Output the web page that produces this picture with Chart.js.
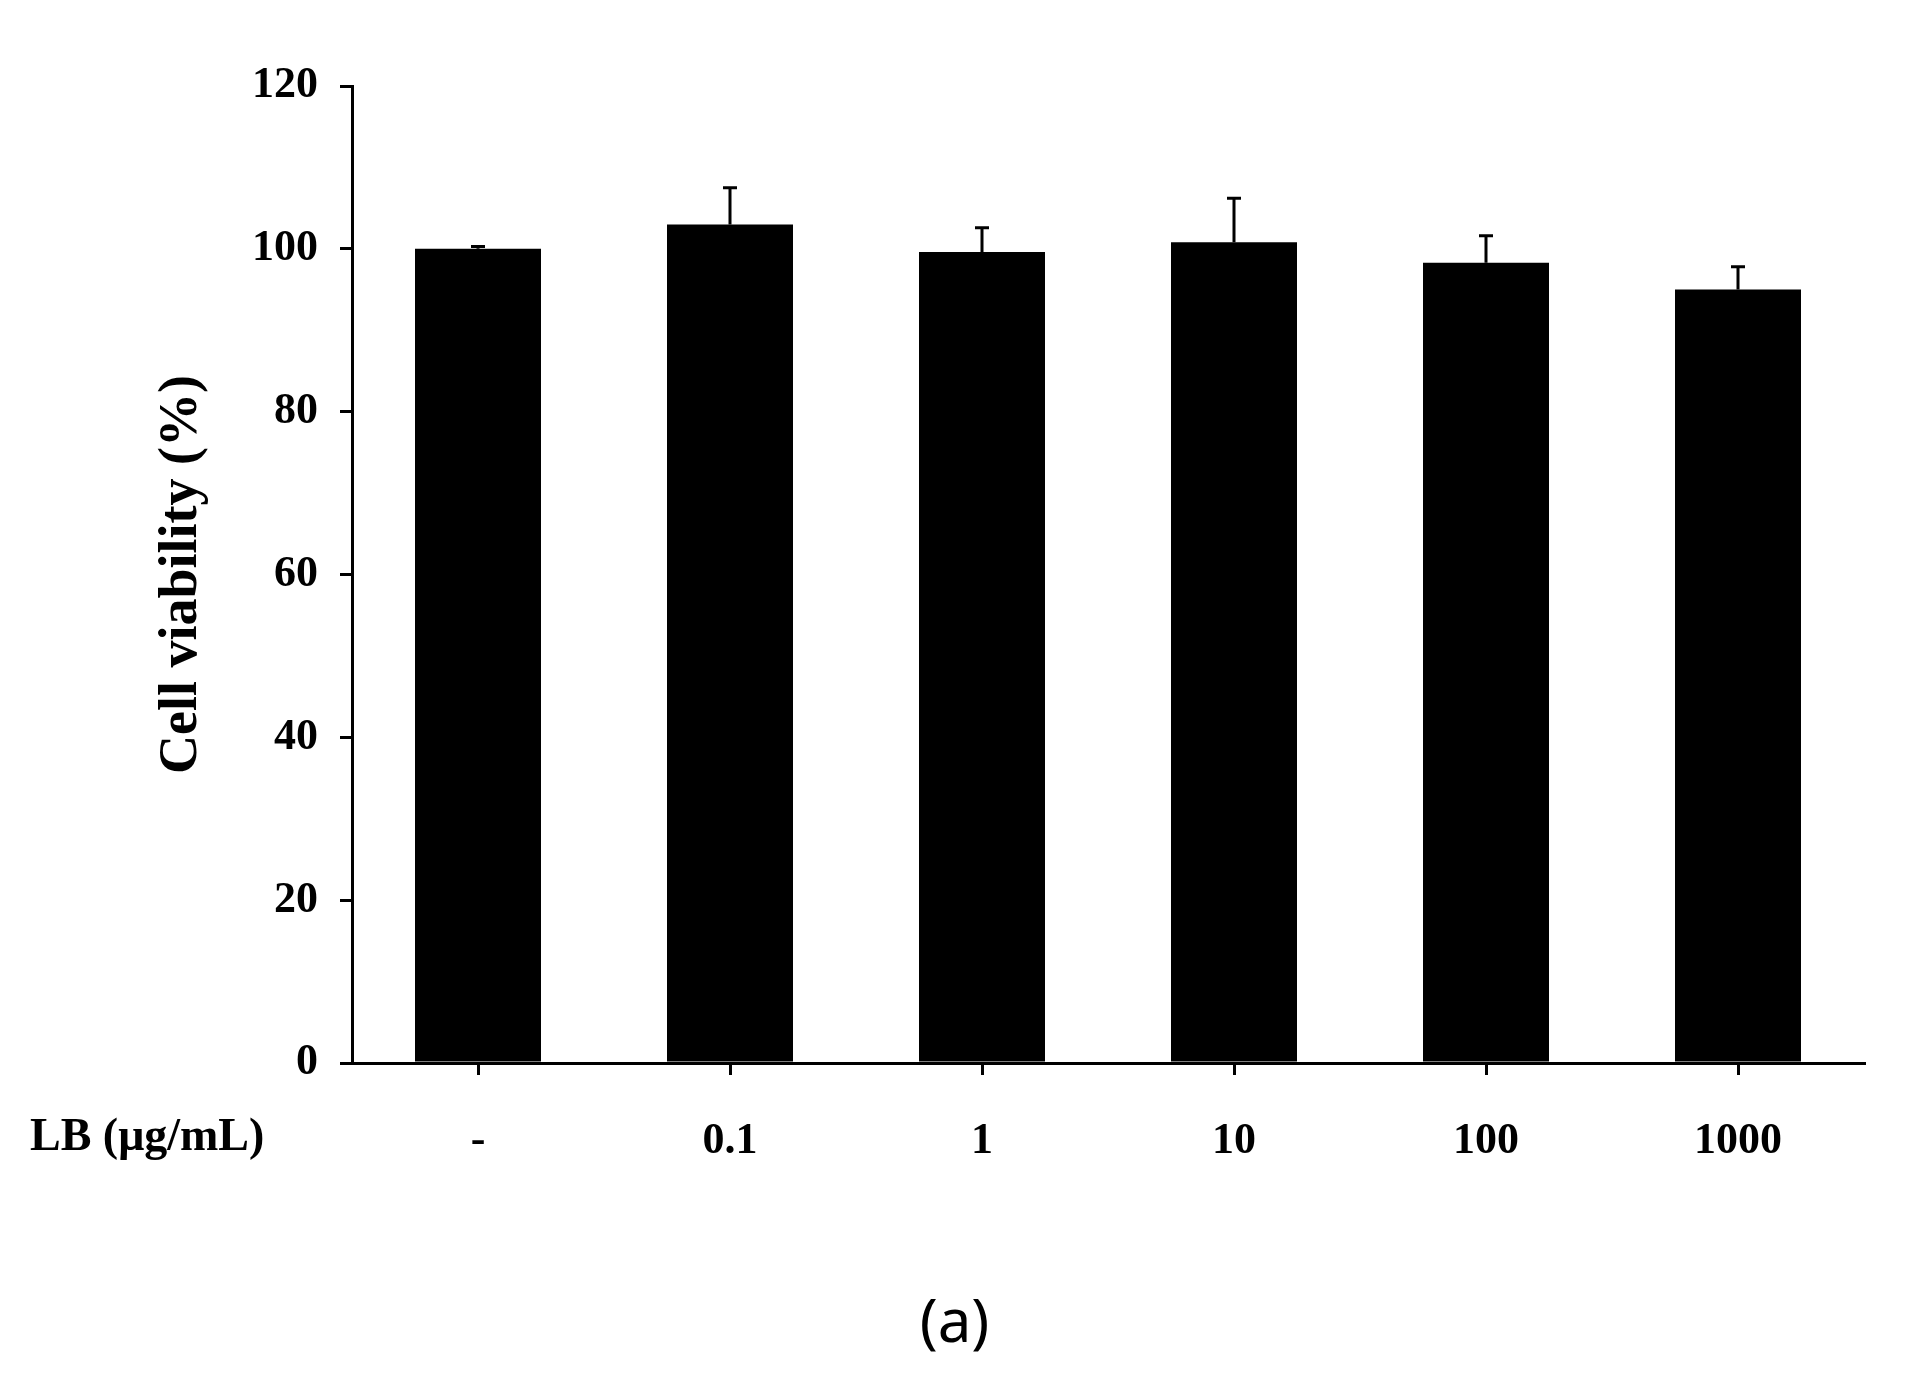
<!DOCTYPE html>
<html>
<head>
<meta charset="utf-8">
<script src="https://cdn.jsdelivr.net/npm/chart.js@4.4.1/dist/chart.umd.min.js"></script>
<style>
  html, body { margin: 0; padding: 0; background: #fff; }
  #wrap { position: relative; width: 1919px; height: 1392px; }
  #lb { position: absolute; left: 30px; top: 1108px; font: bold 46px "Liberation Serif", serif; }
  #panel { position: absolute; left: 0; width: 1919px; top: 1278px; text-align: center;
           font: 60px "Noto Sans", sans-serif; padding-left: 0; }
</style>
</head>
<body>
<div id="wrap">
  <canvas id="c" width="1919" height="1392"></canvas>
  <div id="lb">LB (μg/mL)</div>
  <div id="panel" style="left:-5px">(a)</div>
</div>
<script>
// ── data ──
const categories = ["-", "0.1", "1", "10", "100", "1000"];
const viability  = [100, 103, 99.6, 100.8, 98.3, 95];
const errors     = [0.3, 4.5, 3.0, 5.4, 3.3, 2.8];

// upper-only error bars with caps
const errorBars = {
  id: "errorBars",
  afterDatasetsDraw(chart) {
    const { ctx, scales: { x, y } } = chart;
    ctx.save();
    ctx.strokeStyle = "#000";
    ctx.lineWidth = 3;
    viability.forEach((v, i) => {
      const px = x.getPixelForValue(i);
      const top = y.getPixelForValue(v + errors[i]);
      ctx.beginPath();
      ctx.moveTo(px, y.getPixelForValue(v));
      ctx.lineTo(px, top);
      ctx.moveTo(px - 7, top);
      ctx.lineTo(px + 7, top);
      ctx.stroke();
    });
    ctx.restore();
  }
};

const tickFont = { family: "Liberation Serif", weight: "bold", size: 44 };

new Chart(document.getElementById("c"), {
  type: "bar",
  data: {
    labels: categories,
    datasets: [{ data: viability, backgroundColor: "#000", borderWidth: 0,
                 barPercentage: 0.5, categoryPercentage: 1 }]
  },
  options: {
    responsive: false,
    animation: false,
    layout: { padding: { left: 150, top: 86, right: 55, bottom: 229 } },
    plugins: { legend: { display: false }, tooltip: { enabled: false } },
    scales: {
      x: {
        afterFit: s => { s.height = 100; },
        border: { color: "#000", width: 3 },
        grid: { drawOnChartArea: false, drawTicks: true, tickLength: 12, color: "#000", lineWidth: 3, offset: false },
        ticks: { color: "#000", font: tickFont, padding: 40, maxRotation: 0 }
      },
      y: {
        min: 0, max: 120,
        afterFit: s => { s.width = 202; },
        border: { color: "#000", width: 3 },
        grid: { drawOnChartArea: false, drawTicks: true, tickLength: 12, color: "#000", lineWidth: 3 },
        ticks: { stepSize: 20, color: "#000", font: tickFont, padding: 22 },
        title: { display: true, text: "Cell viability (%)", color: "#000",
                 font: { family: "Liberation Serif", weight: "bold", size: 54 }, padding: 0 }
      }
    }
  },
  plugins: [errorBars]
});
</script>
</body>
</html>
